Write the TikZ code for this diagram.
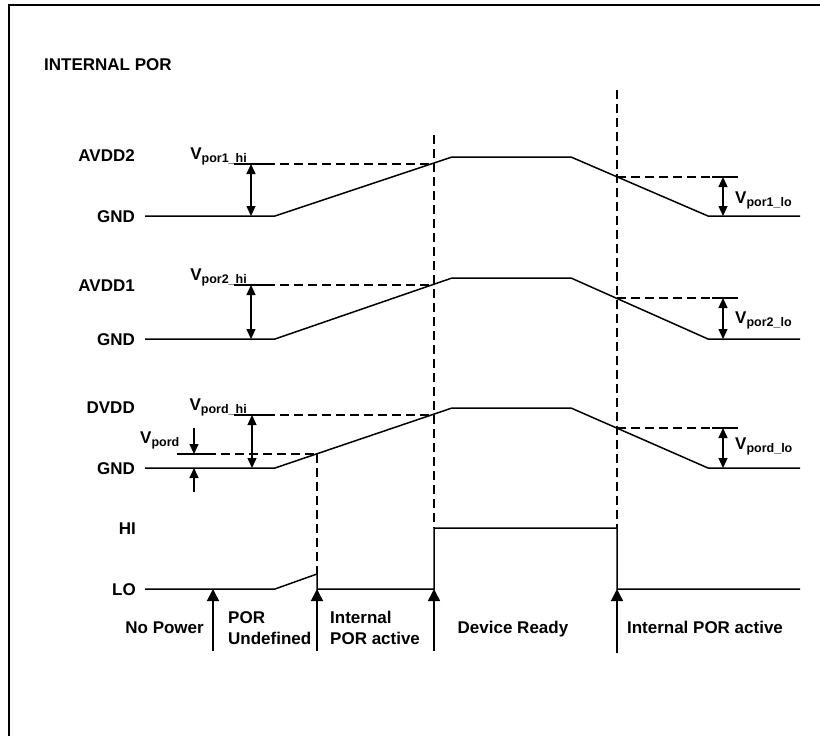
\documentclass[tikz,border=0pt]{standalone}
\usepackage{fontspec}
\setmainfont{Liberation Sans}
\usetikzlibrary{arrows.meta}
\newcommand\vsub[1]{V\raisebox{-3pt}{\fontsize{12.5}{13}\selectfont #1}}
\begin{document}
\begin{tikzpicture}[x=1pt,y=-1pt,
  sig/.style={line width=1.5pt, line join=miter},
  dsh/.style={line width=1.5pt, dash pattern=on 9pt off 5pt},
  dim/.style={line width=1.3pt, {Triangle[length=10pt,width=9pt]}-{Triangle[length=10pt,width=9pt]}},
  onearr/.style={line width=1.3pt, -{Triangle[length=10pt,width=9pt]}},
  evt/.style={line width=1.5pt, -{Triangle[length=12pt,width=12pt]}},
  lbl/.style={font=\fontsize{17}{20}\selectfont\bfseries, inner sep=0pt}]
\useasboundingbox (0,0) rectangle (820,736);
% frame
\draw[line width=2pt] (9,736) -- (9,5) -- (820,5);
% title and row labels
\node[lbl, anchor=base west] (title) at (44,70) {INTERNAL POR};
\node[lbl, anchor=base east] (avdd2) at (135,161) {AVDD2};
\node[lbl, anchor=base east] (gnd1) at (135,222) {GND};
\node[lbl, anchor=base east] (avdd1) at (135,291) {AVDD1};
\node[lbl, anchor=base east] (gnd2) at (135,345) {GND};
\node[lbl, anchor=base east] (dvdd) at (135,413) {DVDD};
\node[lbl, anchor=base east] (gnd3) at (135,474) {GND};
\node[lbl, anchor=base east] (hi) at (136,534) {HI};
\node[lbl, anchor=base east] (lo) at (136,595) {LO};
% supply traces
\draw[sig] (145,216) -- (275,216) -- (452,157) -- (571,157) -- (708,216) -- (800,216);
\draw[sig] (145,339) -- (275,339) -- (452,278) -- (571,278) -- (708,339) -- (800,339);
\draw[sig] (145,468) -- (275,468) -- (452,408) -- (571,408) -- (708,468) -- (800,468);
% HI/LO trace
\draw[sig] (145,589) -- (275,589) -- (317,574) -- (317,589) -- (434,589) -- (434,528)
  -- (617,528) -- (617,589) -- (800,589);
% vertical dashed markers
\draw[dsh] (434,135) -- (434,528);
\draw[dsh] (617,90) -- (617,528);
\draw[dsh] (317,454) -- (317,574);
% rising thresholds
\draw[sig] (234,164) -- (266,164); \draw[dsh] (266,164) -- (434,164);
\draw[sig] (234,285) -- (266,285); \draw[dsh] (266,285) -- (434,285);
\draw[sig] (234,415) -- (266,415); \draw[dsh] (266,415) -- (434,415);
\draw[sig] (177,454) -- (207,454); \draw[dsh] (207,454) -- (317,454);
\draw[dim] (251,164) -- (251,216);
\draw[dim] (251,285) -- (251,339);
\draw[dim] (252,415) -- (252,468);
\draw[onearr] (194,428) -- (194,454);
\draw[onearr] (194,492) -- (194,468);
% falling thresholds
\draw[dsh] (617,177) -- (712,177); \draw[sig] (712,177) -- (738,177);
\draw[dsh] (617,298) -- (712,298); \draw[sig] (712,298) -- (738,298);
\draw[dsh] (617,428) -- (712,428); \draw[sig] (712,428) -- (738,428);
\draw[dim] (723,177) -- (723,216);
\draw[dim] (723,298) -- (723,339);
\draw[dim] (723,428) -- (723,468);
% threshold labels
\node[lbl, anchor=base east] (vp1h) at (247,159.5) {\vsub{por1\_hi}};
\node[lbl, anchor=base east] (vp2h) at (247,280.5) {\vsub{por2\_hi}};
\node[lbl, anchor=base east] (vpdh) at (247,410) {\vsub{pord\_hi}};
\node[lbl, anchor=base west] (vpd) at (140,443) {\vsub{pord}};
\node[lbl, anchor=base west] (vp1l) at (735,203) {\vsub{por1\_lo}};
\node[lbl, anchor=base west] (vp2l) at (735,323) {\vsub{por2\_lo}};
\node[lbl, anchor=base west] (vpdl) at (735,449) {\vsub{pord\_lo}};
% event arrows
\draw[evt] (213,651) -- (213,589);
\draw[evt] (317,651) -- (317,589);
\draw[evt] (434,651) -- (434,589);
\draw[evt] (617,653) -- (617,589);
% phase labels
\node[lbl, anchor=base east] (nopow) at (204,633) {No Power};
\node[lbl, anchor=base west] (por1) at (228,623) {POR};
\node[lbl, anchor=base west] (undef) at (228,644) {Undefined};
\node[lbl, anchor=base west] (int1) at (330,623) {Internal};
\node[lbl, anchor=base west] (poract) at (330,644) {POR active};
\node[lbl, anchor=base] (ready) at (513,633) {Device Ready};
\node[lbl, anchor=base] (int2) at (705,633) {Internal POR active};
\end{tikzpicture}
\end{document}
